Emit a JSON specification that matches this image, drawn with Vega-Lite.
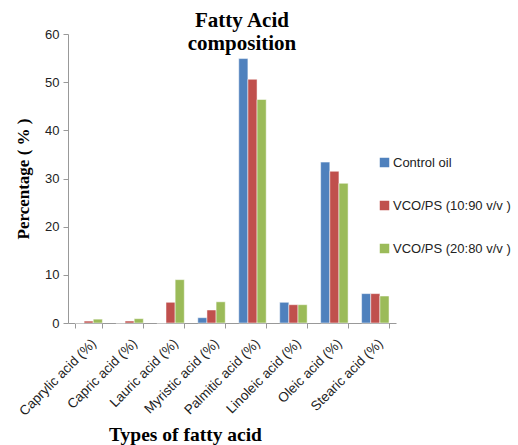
{
  "$schema": "https://vega.github.io/schema/vega-lite/v6.json",
  "width": 328,
  "height": 289,
  "autosize": "none",
  "padding": {"left": 68, "top": 34, "right": 122, "bottom": 122},
  "background": "white",
  "title": {
    "text": ["Fatty Acid", "composition"],
    "font": "Liberation Serif",
    "fontSize": 21,
    "fontWeight": "bold",
    "color": "black",
    "anchor": "middle",
    "dx": 10,
    "dy": 30,
    "lineHeight": 23
  },
  "data": {
    "values": [
      {"acid": "Caprylic acid (%)", "sample": "Control oil", "value": 0},
      {"acid": "Caprylic acid (%)", "sample": "VCO/PS (10:90 v/v )", "value": 0.4},
      {"acid": "Caprylic acid (%)", "sample": "VCO/PS (20:80 v/v )", "value": 0.8},
      {"acid": "Capric acid (%)", "sample": "Control oil", "value": 0},
      {"acid": "Capric acid (%)", "sample": "VCO/PS (10:90 v/v )", "value": 0.4},
      {"acid": "Capric acid (%)", "sample": "VCO/PS (20:80 v/v )", "value": 0.9},
      {"acid": "Lauric acid (%)", "sample": "Control oil", "value": 0},
      {"acid": "Lauric acid (%)", "sample": "VCO/PS (10:90 v/v )", "value": 4.3},
      {"acid": "Lauric acid (%)", "sample": "VCO/PS (20:80 v/v )", "value": 9.0},
      {"acid": "Myristic acid (%)", "sample": "Control oil", "value": 1.1},
      {"acid": "Myristic acid (%)", "sample": "VCO/PS (10:90 v/v )", "value": 2.7},
      {"acid": "Myristic acid (%)", "sample": "VCO/PS (20:80 v/v )", "value": 4.4},
      {"acid": "Palmitic acid (%)", "sample": "Control oil", "value": 54.9},
      {"acid": "Palmitic acid (%)", "sample": "VCO/PS (10:90 v/v )", "value": 50.6},
      {"acid": "Palmitic acid (%)", "sample": "VCO/PS (20:80 v/v )", "value": 46.4},
      {"acid": "Linoleic acid (%)", "sample": "Control oil", "value": 4.3},
      {"acid": "Linoleic acid (%)", "sample": "VCO/PS (10:90 v/v )", "value": 3.8},
      {"acid": "Linoleic acid (%)", "sample": "VCO/PS (20:80 v/v )", "value": 3.8},
      {"acid": "Oleic acid (%)", "sample": "Control oil", "value": 33.4},
      {"acid": "Oleic acid (%)", "sample": "VCO/PS (10:90 v/v )", "value": 31.5},
      {"acid": "Oleic acid (%)", "sample": "VCO/PS (20:80 v/v )", "value": 29.0},
      {"acid": "Stearic acid (%)", "sample": "Control oil", "value": 6.1},
      {"acid": "Stearic acid (%)", "sample": "VCO/PS (10:90 v/v )", "value": 6.1},
      {"acid": "Stearic acid (%)", "sample": "VCO/PS (20:80 v/v )", "value": 5.6}
    ]
  },
  "mark": {"type": "bar", "stroke": "white", "strokeWidth": 0.5},
  "encoding": {
    "x": {
      "field": "acid",
      "type": "nominal",
      "sort": null,
      "scale": {"paddingInner": 0.33, "paddingOuter": 0.17},
      "axis": {
        "title": "Types of fatty acid",
        "titleFont": "Liberation Serif",
        "titleFontSize": 19.5,
        "titleFontWeight": "bold",
        "titleColor": "black",
        "titleX": 117,
        "titleY": 117,
        "titleBaseline": "alphabetic",
        "labelAngle": -45,
        "labelFont": "Liberation Sans",
        "labelFontSize": 13.5,
        "labelColor": "#222",
        "labelPadding": 8,
        "domainColor": "#999",
        "tickColor": "#999",
        "tickSize": 5,
        "tickBand": "extent",
        "grid": false
      }
    },
    "xOffset": {"field": "sample", "type": "nominal"},
    "y": {
      "field": "value",
      "type": "quantitative",
      "scale": {"domain": [0, 60]},
      "axis": {
        "title": "Percentage ( % )",
        "titleFont": "Liberation Serif",
        "titleFontSize": 17,
        "titleFontWeight": "bold",
        "titleColor": "black",
        "titlePadding": 12,
        "values": [0, 10, 20, 30, 40, 50, 60],
        "labelFont": "Liberation Sans",
        "labelFontSize": 13,
        "labelColor": "#222",
        "labelPadding": 4,
        "domainColor": "#999",
        "tickColor": "#999",
        "tickSize": 5,
        "grid": false
      }
    },
    "color": {
      "field": "sample",
      "type": "nominal",
      "scale": {"range": ["#4F81BD", "#C0504D", "#9BBB59"]},
      "legend": {
        "title": null,
        "orient": "none",
        "legendX": 310,
        "legendY": 122,
        "symbolType": "square",
        "symbolSize": 90,
        "symbolStrokeWidth": 0,
        "labelFont": "Liberation Sans",
        "labelFontSize": 13,
        "labelColor": "#222",
        "rowPadding": 29,
        "labelOffset": 2
      }
    }
  },
  "config": {"view": {"stroke": null}}
}
